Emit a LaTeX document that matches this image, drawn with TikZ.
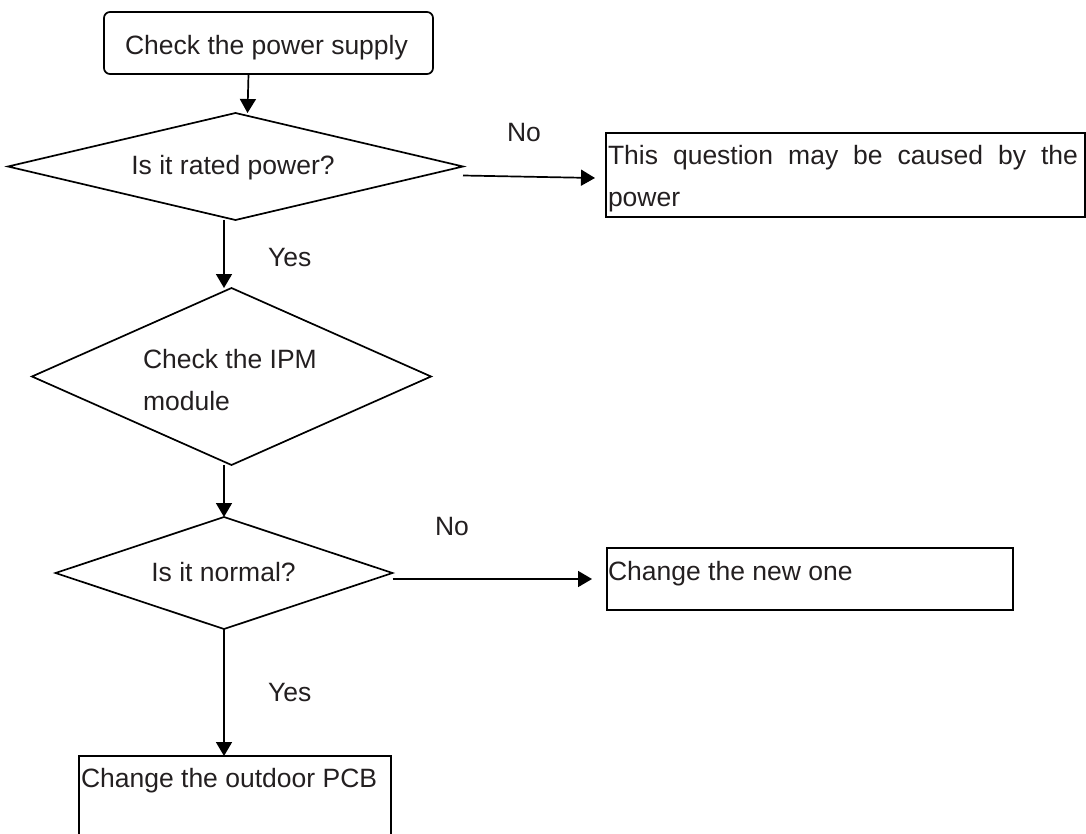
\documentclass[tikz,border=0pt]{standalone}
\usepackage{fontspec}
\setmainfont{Liberation Sans}
\usetikzlibrary{shapes.geometric,arrows.meta}
\definecolor{txt}{HTML}{231F20}
\begin{document}
\begin{tikzpicture}[x=1pt,y=-1pt,line width=1.7pt,
  lbl/.style={font=\fontsize{26.5}{42}\selectfont,text=txt,inner sep=0pt,outer sep=0pt},
  dia/.style={draw,diamond,inner sep=0pt,outer sep=0pt},
  boxnode/.style={draw,rectangle,inner sep=0pt,outer sep=0pt},
  arr/.style={-{Triangle[length=14pt,width=16pt]},line width=1.7pt}]
\useasboundingbox (0,0) rectangle (1086,834);

% shapes
\node[boxnode,rounded corners=6pt,minimum width=329pt,minimum height=62pt] (start) at (268.5,43) {};
\node[dia,minimum width=455pt,minimum height=107pt] (d1) at (235.5,166.5) {};
\node[boxnode,minimum width=479pt,minimum height=84pt] (b2) at (845.5,175) {};
\node[dia,minimum width=399pt,minimum height=177pt] (d2) at (231.5,376.5) {};
\node[dia,minimum width=337pt,minimum height=112pt] (d3) at (224,573) {};
\node[boxnode,minimum width=312pt,minimum height=94pt] (b4) at (235,803) {};
\node[boxnode,minimum width=406pt,minimum height=62pt] (b3) at (810,579) {};

% texts
\node[lbl,anchor=base] (tstart) at (266.5,55) {Check the power supply};
\node[lbl,anchor=base] (td1) at (233,175) {Is it rated power?};
\node[lbl,anchor=base west,align=left] (tb2) at (608,207) {\makebox[470pt][s]{This question may be caused by the}\\power};
\node[lbl,anchor=base west,align=left] (td2) at (143,410) {Check the IPM\\module};
\node[lbl,anchor=base] (td3) at (223.5,581) {Is it normal?};
\node[lbl,anchor=base west] (tb3) at (608,580) {Change the new one};
\node[lbl,anchor=base west] (tb4) at (81,787) {Change the outdoor PCB};

% labels
\node[lbl,anchor=base west] (no1) at (507,142) {No};
\node[lbl,anchor=base west] (yes1) at (268,266) {Yes};
\node[lbl,anchor=base west] (no2) at (435,535) {No};
\node[lbl,anchor=base west] (yes2) at (268,701) {Yes};

% connectors
\draw[arr] ([xshift=-20pt]start.south) -- ([xshift=12pt]d1.north);
\draw[arr] ([yshift=-9pt]d1.east) -- ([xshift=-11pt,yshift=-3pt]b2.west);
\draw[arr] ([xshift=-11.5pt]d1.south) -- ([xshift=-7.5pt]d2.north);
\draw[arr] ([xshift=-7.5pt]d2.south) -- (d3.north);
\draw[arr] ([yshift=-6pt]d3.east) -- ([xshift=-15pt]b3.west);
\draw[arr] (d3.south) -- (b4.north -| d3.south);
\end{tikzpicture}
\end{document}
